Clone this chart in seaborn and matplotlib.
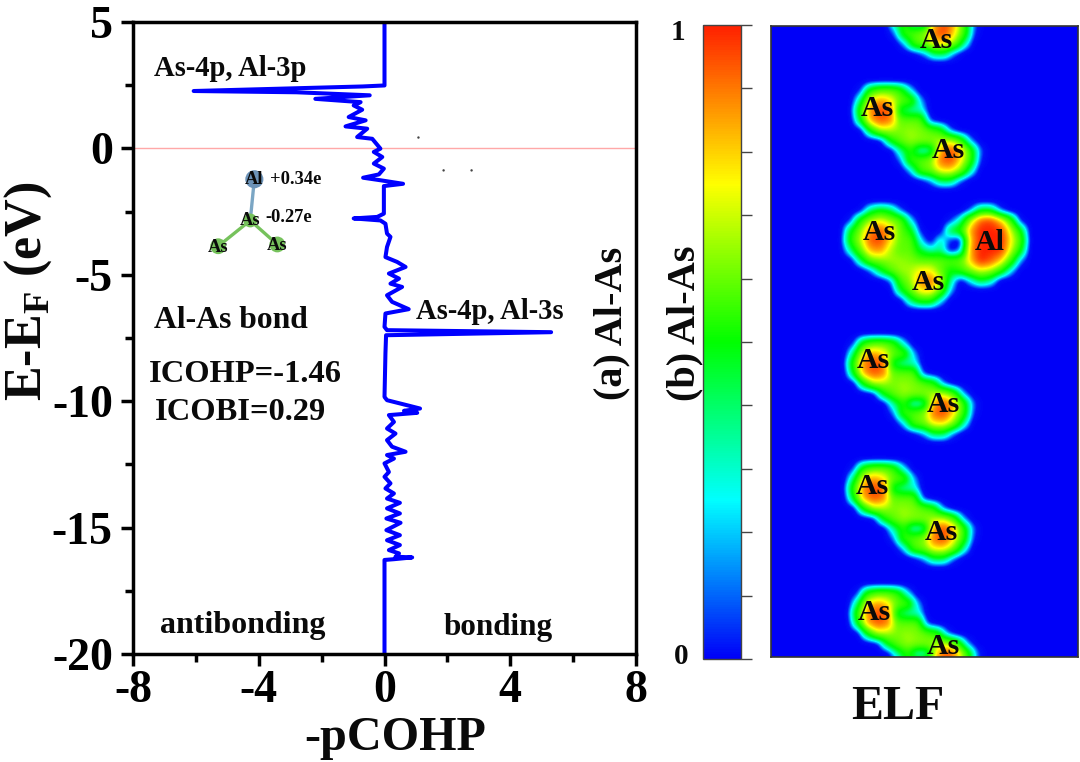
#!/usr/bin/env python3
"""Al-As bond: pCOHP curve next to an ELF slice with its colour bar."""
import numpy as np
import pandas as pd
import matplotlib
matplotlib.use("Agg")
import matplotlib.pyplot as plt
from matplotlib.colors import LinearSegmentedColormap
from matplotlib.ticker import MultipleLocator
import seaborn as sns

W, H = 1080, 762

# pCOHP curve, top to bottom
energy = [5, 2.49, 2.45, 2.27, 2.22, 2.10, 1.96, 1.83, 1.70, 1.53, 1.24, 1.11, 0.87, 0.78, 0.45, 0.38,
          -0.01, -0.14, -0.34, -0.60, -0.80, -1.03, -1.16, -1.26, -1.40, -1.49, -2.58, -2.71, -2.77,
          -2.85, -2.98, -3.37, -3.50, -3.90, -4.30, -4.49, -4.69, -4.95, -5.15, -5.35, -5.48, -5.81,
          -6.07, -6.36, -6.53, -7.06, -7.19, -7.27, -7.39, -8.10, -9.83, -9.96, -10.16, -10.29, -10.38,
          -10.46, -10.55, -10.82, -11.08, -11.28, -11.54, -11.80, -12.00, -12.13, -12.27, -12.46, -12.80,
          -12.99, -13.25, -13.45, -13.65, -13.85, -14.02, -14.24, -14.44, -14.64, -14.81, -15.10, -15.30,
          -15.50, -15.69, -15.89, -16.02, -16.15, -16.18, -16.25, -16.28, -20]
pcohp = [0, 0, -0.7, -6.07, -2.8, -0.47, -2.2, -0.76, -0.98, -0.71, -1.14, -0.60, -1.24, -0.55, -0.87, -0.39,
         -0.13, -0.34, -0.07, -0.34, -0.02, -0.18, -0.68, -0.13, 0.59, -0.02, -0.02, -0.23, -0.98,
         -0.13, 0.03, 0.08, 0.19, 0.08, 0.03, 0.40, 0.67, 0.14, 0.46, 0.19, 0.56, 0.08,
         0.24, 0.77, 0.03, 0, 0.08, 5.30, 0.05, 0.03, 0, 0.08, 0.72, 1.13, 0.62,
         1.04, 0.14, 0.30, 0.08, 0.35, 0.08, 0.24, 0.67, 0.08, 0.30, 0, 0.14,
         0, 0.19, 0.03, 0.30, 0.08, 0.49, 0.08, 0.49, 0.06, 0.51, 0.06, 0.49,
         0.08, 0.49, 0.14, 0.46, 0.35, 0.88, 0.30, 0, 0]

x_ticks = [-8, -4, 0, 4, 8]
y_ticks = [5, 0, -5, -10, -15, -20]

# small molecule drawn in the curve panel
mol_x = [-4.14, -4.27, -5.29, -3.41]
mol_y = [-1.22, -2.85, -3.87, -3.80]
mol_colors = ["#6c93b8", "#76c25c", "#76c25c", "#76c25c"]
stray_x = [1.08, 1.88, 2.77]
stray_y = [0.43, -0.87, -0.87]

# ELF values (in %) read on a 10 px grid: As-As pair, x 850..990, y 80..190
pair_elf = np.array([
    [0,  0,  0,  0,  0,  0,  0,  0,  0,  0,  0,  0,  0,  0,  0],
    [0,  5, 40, 50, 50, 42, 15,  0,  0,  0,  0,  0,  0,  0,  0],
    [0, 25, 70, 82, 72, 50, 45, 12,  0,  0,  0,  0,  0,  0,  0],
    [3, 42, 85, 95, 90, 30, 20, 20,  0,  0,  0,  0,  0,  0,  0],
    [0, 32, 78, 92, 85, 50, 50, 48,  5,  0,  0,  0,  0,  0,  0],
    [0,  0, 35, 60, 60, 55, 58, 55, 48, 40,  8,  0,  0,  0,  0],
    [0,  0,  0,  2, 35, 50, 58, 55, 55, 60, 62, 45, 10,  0,  0],
    [0,  0,  0,  0,  0, 22, 40, 15, 20, 78, 95, 78, 42,  8,  0],
    [0,  0,  0,  0,  0,  8, 42, 48, 55, 88, 95, 72, 42,  5,  0],
    [0,  0,  0,  0,  0,  0, 12, 45, 52, 70, 72, 55, 22,  0,  0],
    [0,  0,  0,  0,  0,  0,  0,  2, 10, 28, 28,  8,  0,  0,  0],
    [0,  0,  0,  0,  0,  0,  0,  0,  0,  0,  0,  0,  0,  0,  0],
])
# As-As-Al group, x 840..1030, y 200..310
group_elf = np.array([
    [0,  0,  0,  0,  0,  0,  0,  0,  0,  0,  0,  0,  0,  0,   0,   0,   0,  0,  0, 0],
    [0,  0,  2, 25, 35, 28,  8,  0,  0,  0,  0,  0,  0,  8,  32,  32,   8,  0,  0, 0],
    [0,  5, 40, 60, 68, 58, 48, 15,  0,  0,  0,  5, 20, 60,  90,  95,  75, 45,  3, 0],
    [0, 32, 55, 85, 92, 75, 50, 35,  3,  0,  0, 30, 40, 80, 100, 100,  98, 65, 35, 0],
    [2, 38, 62, 92, 95, 72, 50, 48, 15,  0, 20,  5,  0, 75, 100, 100, 100, 72, 45, 2],
    [0, 22, 50, 78, 82, 60, 50, 50, 30, 20, 25,  0, 10, 80, 100, 100,  98, 65, 35, 0],
    [0,  0, 25, 50, 55, 58, 58, 55, 50, 50, 48, 48, 50, 75, 100,  92,  75, 45, 10, 0],
    [0,  0,  0,  8, 30, 48, 58, 60, 70, 70, 52, 35, 42, 55,  65,  60,  42, 15,  0, 0],
    [0,  0,  0,  0,  0,  8, 45, 58, 85, 88, 65, 22,  0, 15,  30,  22,   0,  0,  0, 0],
    [0,  0,  0,  0,  0,  0, 30, 50, 72, 75, 50, 12,  0,  0,   0,   0,   0,  0,  0, 0],
    [0,  0,  0,  0,  0,  0,  0, 25, 40, 40, 15,  0,  0,  0,   0,   0,   0,  0,  0, 0],
    [0,  0,  0,  0,  0,  0,  0,  0,  0,  0,  0,  0,  0,  0,   0,   0,   0,  0,  0, 0],
])
pair_shift_x = [-6, 0, -7, -7, -3]
pair_shift_y = [-127, 0, 253, 378, 503]

# steepens the rim of each lobe once the grid has been smoothed
rim_in = [0, 0.05, 0.15, 0.30, 0.55, 0.80, 1]
rim_out = [0, 0.02, 0.25, 0.47, 0.62, 0.85, 1]

elf_labels = ["As", "As", "As", "As", "As", "Al", "As", "As", "As", "As", "As", "As"]
elf_label_px = [936, 877, 948, 879, 928, 990, 873, 943, 872, 941, 874, 943]
elf_label_py = [39, 106, 149, 231, 280, 241, 359, 402, 484, 531, 611, 645]

cbar_stops = ["#0000f8", "#00ffff", "#00ff00", "#ffff00", "#ff2000"]


def px_axes(fig, left, top, right, bottom):
    return fig.add_axes([left / W, 1 - bottom / H, (right - left) / W, (bottom - top) / H])


def put(fig, x, y, s, size, **kw):
    kw.setdefault("ha", "center")
    kw.setdefault("va", "center")
    kw.setdefault("fontweight", "bold")
    return fig.text(x / W, 1 - y / H, s, fontsize=size, color="#0a0a0a", **kw)


def stamp(field, X, Y, patch, x0, y0):
    # bilinear lookup of one hand-read patch, keeps the larger value
    u = (X - x0) / 10.0
    v = (Y - y0) / 10.0
    rows, cols = patch.shape
    inside = (u >= 0) & (u < cols - 1) & (v >= 0) & (v < rows - 1)
    i = np.clip(v.astype(int), 0, rows - 2)
    j = np.clip(u.astype(int), 0, cols - 2)
    a, b = v - i, u - j
    vals = (patch[i, j] * (1 - a) * (1 - b) + patch[i, j + 1] * (1 - a) * b
            + patch[i + 1, j] * a * (1 - b) + patch[i + 1, j + 1] * a * b)
    field[inside] = np.maximum(field[inside], vals[inside] / 100.0)


def build_field():
    # a margin keeps the lobes cut by the panel edge from fading there
    margin = 20
    X, Y = np.meshgrid(np.arange(771 - margin, 1078 + margin), np.arange(26 - margin, 657 + margin))
    field = np.zeros(X.shape)
    for dx, dy in zip(pair_shift_x, pair_shift_y):
        stamp(field, X, Y, pair_elf, 850 + dx, 80 + dy)
    stamp(field, X, Y, group_elf, 840, 200)
    kernel = np.convolve(np.ones(7), np.ones(7)) / 49
    field = np.apply_along_axis(lambda c: np.convolve(c, kernel, mode="same"), 0, field)
    field = np.apply_along_axis(lambda c: np.convolve(c, kernel, mode="same"), 1, field)
    field = np.interp(field, rim_in, rim_out)
    return field[margin:-margin, margin:-margin]


def main():
    sns.set_theme(style="ticks")
    plt.rcParams["font.family"] = ["Liberation Serif", "DejaVu Serif"]
    plt.rcParams["axes.unicode_minus"] = False
    plt.rcParams["mathtext.fontset"] = "custom"
    plt.rcParams["mathtext.bf"] = "Liberation Serif:bold"

    fig = plt.figure(figsize=(W / 100, H / 100), dpi=100, facecolor="white")

    # pCOHP panel
    ax = px_axes(fig, 133, 22, 636, 654)
    ax.axhline(0, color="#ffa8a8", lw=1)
    curve = pd.DataFrame({"pcohp": pcohp, "energy": energy})
    sns.lineplot(data=curve, x="pcohp", y="energy", sort=False, estimator=None, orient="y",
                 color="#0000ff", lw=2.9, ax=ax, solid_joinstyle="round")
    ax.set_xlim(-8, 8)
    ax.set_ylim(-20, 5)
    ax.set_xticks(x_ticks)
    ax.set_yticks(y_ticks)
    ax.xaxis.set_minor_locator(MultipleLocator(2))
    ax.yaxis.set_minor_locator(MultipleLocator(2.5))
    ax.tick_params(which="major", length=8.5, width=2.5, color="black", labelcolor="black", pad=3)
    ax.tick_params(which="minor", length=5.5, width=2.5, color="black")
    ax.tick_params(axis="y", which="major", pad=6)
    ax.tick_params(axis="both", which="major", labelsize=33)
    for lab in ax.get_xticklabels() + ax.get_yticklabels():
        lab.set_fontweight("bold")
    for side in ax.spines.values():
        side.set_visible(True)
        side.set_linewidth(2.5)
        side.set_color("black")
    ax.set_xlabel("")
    ax.set_ylabel("")

    # molecule inset
    ax.plot(mol_x[:2], mol_y[:2], color="#7ba6c4", lw=2.4, zorder=3)
    ax.plot([mol_x[1], mol_x[2]], [mol_y[1], mol_y[2]], color="#76c25c", lw=2.4, zorder=3)
    ax.plot([mol_x[1], mol_x[3]], [mol_y[1], mol_y[3]], color="#76c25c", lw=2.4, zorder=3)
    ax.scatter(mol_x, mol_y, s=[170, 100, 130, 130], c=mol_colors, edgecolors="none", zorder=4)
    ax.scatter(stray_x, stray_y, s=3, c="#444444", edgecolors="none")

    # ELF panel and colour bar
    cax = px_axes(fig, 703, 25, 741, 659)
    elf_ax = px_axes(fig, 771, 26, 1078, 657)
    cmap = LinearSegmentedColormap.from_list("elf", cbar_stops, N=256)
    sns.heatmap(build_field(), vmin=0, vmax=1, cmap=cmap, ax=elf_ax, cbar_ax=cax,
                xticklabels=False, yticklabels=False, rasterized=True)
    for side in elf_ax.spines.values():
        side.set_visible(True)
        side.set_linewidth(1.2)
        side.set_color("#333333")
    cbar = elf_ax.collections[0].colorbar
    cbar.set_ticks(np.arange(0, 1.01, 0.1))
    cbar.set_ticklabels([])
    cbar.ax.tick_params(length=8, width=1, color="#444444", right=True)
    cbar.outline.set_visible(True)
    cbar.outline.set_linewidth(1)
    cbar.outline.set_edgecolor("#444444")

    # text, placed by pixel
    put(fig, 230, 68, "As-4p, Al-3p", 20.6)
    put(fig, 490, 312, "As-4p, Al-3s", 20.6)
    put(fig, 231, 320, "Al-As bond", 22.8)
    put(fig, 245, 375, "ICOHP=-1.46", 23.4)
    put(fig, 241, 413, "ICOBI=0.29", 23.4)
    put(fig, 243, 626, "antibonding", 23)
    put(fig, 498, 628, "bonding", 22.4)
    put(fig, 254, 180, "Al", 13.3, zorder=5)
    put(fig, 296, 179, "+0.34e", 13.3)
    put(fig, 250, 220, "As", 13.3, zorder=5)
    put(fig, 289, 218, "-0.27e", 13.3)
    put(fig, 218, 247, "As", 13.3, zorder=5)
    put(fig, 277, 245, "As", 13.3, zorder=5)
    put(fig, 395, 738, "-pCOHP", 34.7)
    put(fig, 898, 707, "ELF", 34.5)
    put(fig, 28, 291, r"E-E$_{\mathbf{F}}$ (eV)", 37.5, rotation=90)
    put(fig, 612, 323, "(a) Al-As", 29, rotation=90)
    put(fig, 685, 323, "(b) Al-As", 29, rotation=90)
    put(fig, 678, 32, "1", 21)
    put(fig, 681, 656, "0", 21)
    for s, x, y in zip(elf_labels, elf_label_px, elf_label_py):
        put(fig, x, y + 2, s, 21.5)

    fig.savefig("out.png", dpi=100)
    plt.close(fig)


if __name__ == "__main__":
    main()
